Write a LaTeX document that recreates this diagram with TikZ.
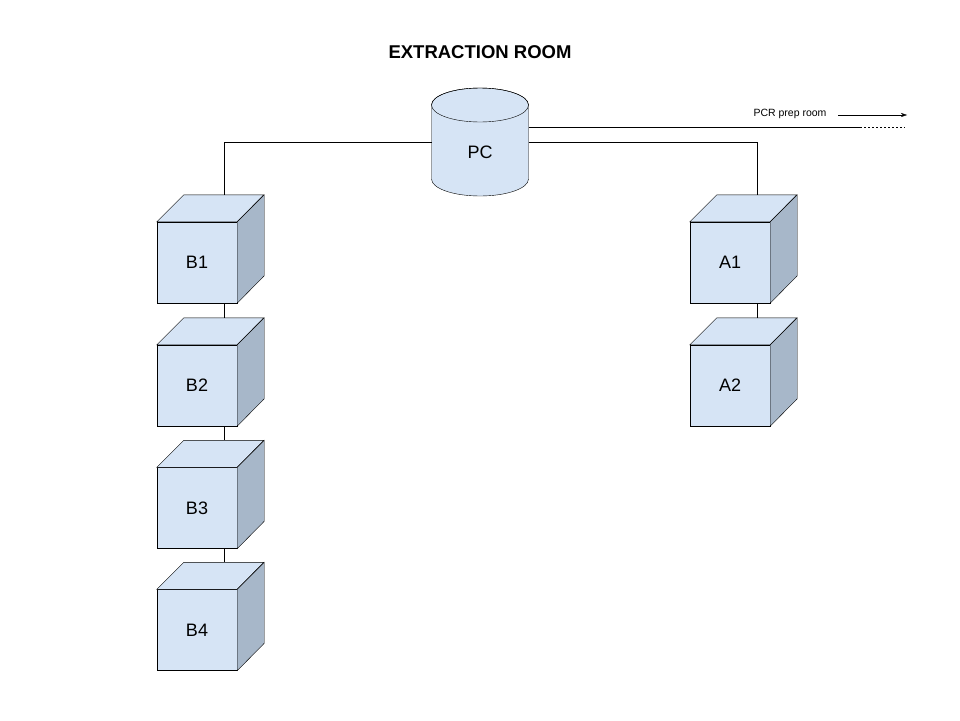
\documentclass[tikz,border=0pt]{standalone}
\usepackage{fontspec}
\setmainfont{Liberation Sans}
\usetikzlibrary{arrows.meta}
\definecolor{cubetop}{HTML}{D6E4F5}
\definecolor{cubeside}{HTML}{A7B7C9}
\begin{document}
\begin{tikzpicture}[x=1pt,y=-1pt]
\tikzset{CubeStyle/.style = {draw, fill=cubetop, minimum width=80pt, minimum height=81pt, inner sep=0pt, font=\fontsize{18}{20}\selectfont}}
\tikzset{CylStyle/.style = {minimum width=97pt, minimum height=108pt, inner sep=0pt, outer sep=0pt}}
\useasboundingbox (0,0) rectangle (960,720);
\node[font=\bfseries\fontsize{18.5}{20}\selectfont] (title) at (480,52) {EXTRACTION ROOM};
\node[CylStyle] (PC) at (480,142) {};
\draw[fill=cubetop] ([yshift=-17pt]PC.north west) -- ([yshift=17pt]PC.south west) arc[start angle=180, end angle=360, x radius=48.5pt, y radius=17pt] -- ([yshift=-17pt]PC.north east) arc[start angle=0, end angle=180, x radius=48.5pt, y radius=17pt] -- cycle;
\draw ([yshift=-17pt]PC.north) ellipse [x radius=48.5pt, y radius=17pt];
\node[font=\fontsize{18}{20}\selectfont] (PClabel) at ([yshift=-10pt]PC.center) {PC};
\node[CubeStyle] (B1) at (197,262.5) {B1}; \node[CubeStyle] (B2) at (197,385.5) {B2}; \node[CubeStyle] (B3) at (197,508) {B3}; \node[CubeStyle] (B4) at (197,630) {B4};
\node[CubeStyle] (A1) at (730,262.5) {A1}; \node[CubeStyle] (A2) at (730,385.5) {A2};
\foreach \c in {B1,B2,B3,B4,A1,A2} {\draw[fill=cubetop] (\c.north west) -- ++(27pt,27pt) -- ++(80pt,0pt) -- (\c.north east) -- cycle; \draw[fill=cubeside] (\c.north east) -- ++(27pt,27pt) -- ++(0pt,-81pt) -- (\c.south east) -- cycle;}
\draw (PC.west) -| ([xshift=27pt,yshift=27pt]B1.north); \draw (PC.east) -| ([xshift=27pt,yshift=27pt]A1.north);
\draw ([xshift=27pt]B1.south) -- ([xshift=27pt,yshift=27pt]B2.north); \draw ([xshift=27pt]B2.south) -- ([xshift=27pt,yshift=27pt]B3.north); \draw ([xshift=27pt]B3.south) -- ([xshift=27pt,yshift=27pt]B4.north);
\draw ([xshift=27pt]A1.south) -- ([xshift=27pt,yshift=27pt]A2.north);

\coordinate (prep) at (860,127); \coordinate (prepend) at (905,127); \coordinate (arrA) at (838,115); \coordinate (arrB) at (907,115);
\draw ([yshift=15pt]PC.east) -- (prep); \draw[dash pattern=on 2pt off 2pt] (prep) -- (prepend);
\draw[-{Stealth[length=6pt,width=4pt]}] (arrA) -- (arrB);
\node[font=\fontsize{10.5}{12}\selectfont] (prepText) at (790,114) {PCR prep room};
\end{tikzpicture}
\end{document}
